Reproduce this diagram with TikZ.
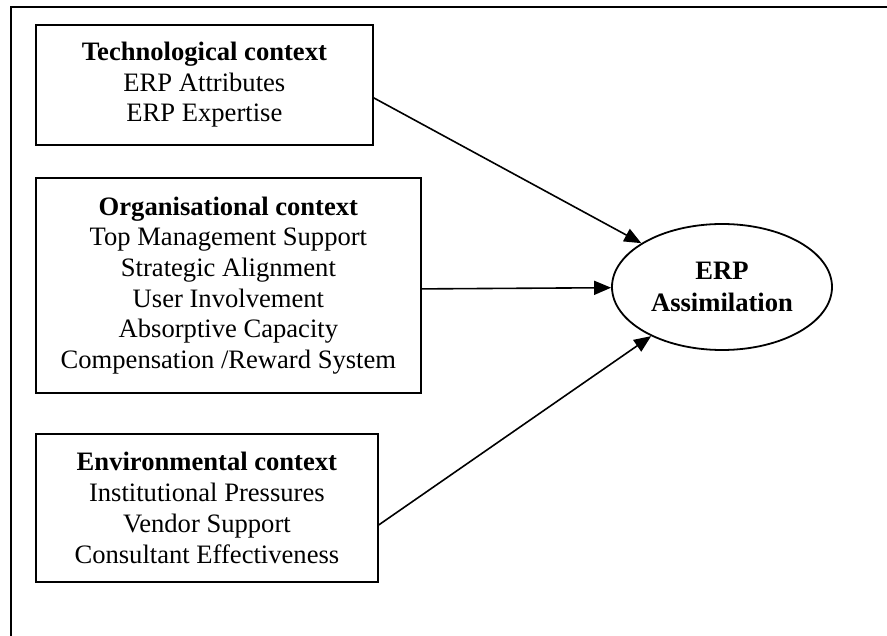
\documentclass[tikz,border=0pt]{standalone}
\usepackage{fontspec}
\setmainfont{Liberation Serif}
\usetikzlibrary{arrows.meta,shapes.geometric}

\tikzset{
  ctxbox/.style={draw,line width=1.8pt,align=center,anchor=north west,inner sep=0pt,
    font=\fontsize{26.6}{30.7}\selectfont},
  link/.style={-{Triangle[length=17pt,width=14pt]},line width=1.6pt},
}

\begin{document}
\begin{tikzpicture}[x=1pt,y=-1pt]
\useasboundingbox (0,0) rectangle (887,636);
% Frame (only top and left edges show)
\draw[line width=1.8pt] (11,636) -- (11,7) -- (887,7);

% Context boxes
\node[ctxbox,minimum width=337pt,minimum height=120pt] (tech) at (35,24)
  {\textbf{Technological context}\\ERP Attributes\\ERP Expertise};
\node[ctxbox,minimum width=385pt,minimum height=215pt] (org) at (35,177)
  {\textbf{Organisational context}\\Top Management Support\\Strategic Alignment\\
   User Involvement\\Absorptive Capacity\\Compensation /Reward System};
\node[ctxbox,minimum width=342pt,minimum height=148pt] (env) at (35,433)
  {\textbf{Environmental context}\\Institutional Pressures\\Vendor Support\\
   Consultant Effectiveness};

% Outcome
\node[draw,ellipse,line width=1.8pt,minimum width=220pt,minimum height=126pt,
  inner sep=0pt,align=center,font=\fontsize{26.6}{32}\selectfont\bfseries]
  (erp) at (722,287) {ERP\\Assimilation};

% Links
\draw[link] ([yshift=-13pt]tech.east) -- (erp);
\draw[link] ([yshift=-3.5pt]org.east) -- (erp);
\draw[link] ([yshift=-17pt]env.east) -- (erp);
\end{tikzpicture}
\end{document}
